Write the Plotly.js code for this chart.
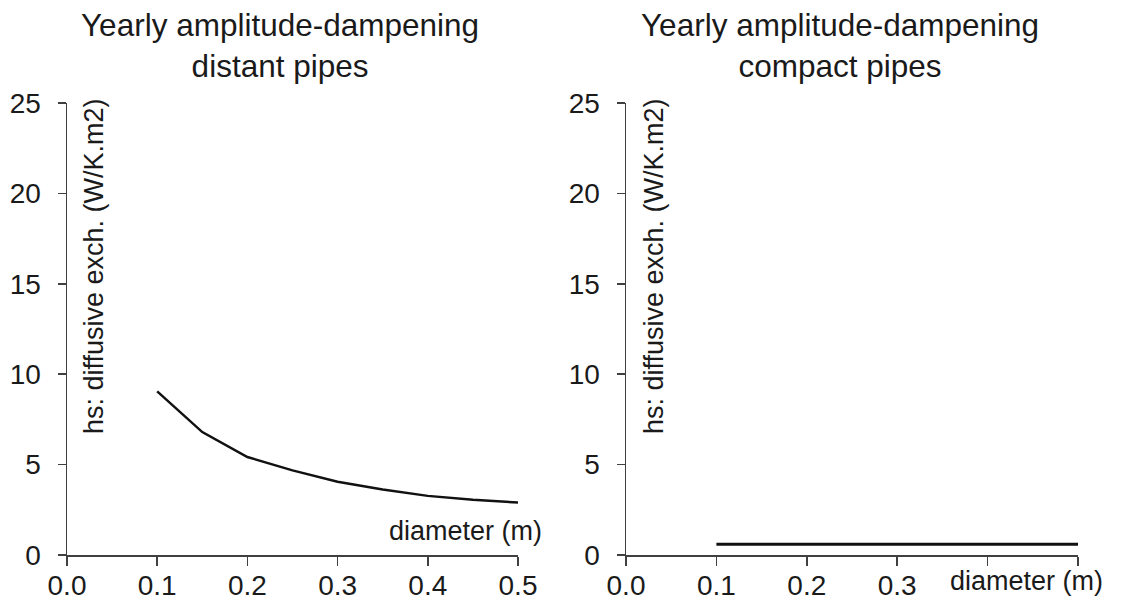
<!DOCTYPE html>
<html>
<head>
<meta charset="utf-8">
<script src="https://cdn.plot.ly/plotly-3.0.1.min.js"></script>
<style>html,body{margin:0;padding:0;background:#fff}#chart{width:1122px;height:603px}</style>
</head>
<body>
<div id="chart"></div>
<script>
// Data
const diameters = [0.1, 0.15, 0.2, 0.25, 0.3, 0.35, 0.4, 0.45, 0.5];
const hsDistant = [9.05, 6.8, 5.42, 4.68, 4.05, 3.62, 3.27, 3.05, 2.9];
const hsCompact = [0.6, 0.6, 0.6, 0.6, 0.6, 0.6, 0.6, 0.6, 0.6];
const xTickVals = [0, 0.1, 0.2, 0.3, 0.4, 0.5];
const xTickTextLeft = ['0.0', '0.1', '0.2', '0.3', '0.4', '0.5'];
const xTickTextRight = ['0.0', '0.1', '0.2', '0.3', '', ''];
const yTickVals = [0, 5, 10, 15, 20, 25];
const titleLeft = 'Yearly amplitude-dampening<br>distant pipes';
const titleRight = 'Yearly amplitude-dampening<br>compact pipes';
const yTitle = 'hs: diffusive exch. (W/K.m2)';
const xTitle = 'diameter (m)';

const W = 1122, H = 603;
const px = v => v / W;
const py = v => (H - v) / H;
const FONT = 'Liberation Sans, Arial, sans-serif';
const TXT = '#1a1a1a';
const AX = '#404040';

const traces = [
  {x: diameters, y: hsDistant, type: 'scatter', mode: 'lines', line: {color: '#111', width: 2.5}, xaxis: 'x', yaxis: 'y', hoverinfo: 'x+y'},
  {x: diameters, y: hsCompact, type: 'scatter', mode: 'lines', line: {color: '#111', width: 3}, xaxis: 'x2', yaxis: 'y2', hoverinfo: 'x+y'}
];

function xax(domain, ticktext, anchor) {
  return {
    domain: domain, anchor: anchor, range: [0, 0.5], fixedrange: true,
    tickmode: 'array', tickvals: xTickVals, ticktext: ticktext,
    ticks: 'outside', ticklen: 9, tickwidth: 1.5, tickcolor: AX,
    showline: true, linecolor: AX, linewidth: 1.5, showgrid: false, zeroline: false,
    tickfont: {family: FONT, size: 28, color: TXT}, ticklabelstandoff: -4
  };
}
function yax(domain, anchor) {
  return {
    domain: domain, anchor: anchor, range: [0, 25], fixedrange: true,
    tickmode: 'array', tickvals: yTickVals,
    ticks: 'outside', ticklen: 8, tickwidth: 1.5, tickcolor: AX,
    showline: true, linecolor: AX, linewidth: 1.5, showgrid: false, zeroline: false,
    tickfont: {family: FONT, size: 28, color: TXT}, ticklabelstandoff: 11
  };
}

const yDom = [py(555), py(103)];
const layout = {
  width: W, height: H,
  margin: {l: 0, r: 0, t: 0, b: 0},
  paper_bgcolor: '#fff', plot_bgcolor: '#fff',
  showlegend: false,
  xaxis: xax([px(67), px(518)], xTickTextLeft, 'y'),
  yaxis: yax(yDom, 'x'),
  xaxis2: xax([px(626), px(1078)], xTickTextRight, 'y2'),
  yaxis2: yax(yDom, 'x2'),
  annotations: [
    {text: titleLeft, xref: 'paper', yref: 'paper', x: px(280), y: py(46), xanchor: 'center', yanchor: 'middle', showarrow: false, font: {family: FONT, size: 31.5, color: TXT}},
    {text: titleRight, xref: 'paper', yref: 'paper', x: px(840), y: py(46), xanchor: 'center', yanchor: 'middle', showarrow: false, font: {family: FONT, size: 31.5, color: TXT}},
    {text: yTitle, xref: 'paper', yref: 'paper', x: px(94), y: py(266), textangle: -90, xanchor: 'center', yanchor: 'middle', showarrow: false, font: {family: FONT, size: 27, color: TXT}},
    {text: yTitle, xref: 'paper', yref: 'paper', x: px(654), y: py(266), textangle: -90, xanchor: 'center', yanchor: 'middle', showarrow: false, font: {family: FONT, size: 27, color: TXT}},
    {text: xTitle, xref: 'paper', yref: 'paper', x: px(387), y: py(531), xanchor: 'left', yanchor: 'middle', showarrow: false, font: {family: FONT, size: 27, color: TXT}},
    {text: xTitle, xref: 'paper', yref: 'paper', x: px(948), y: py(581), xanchor: 'left', yanchor: 'middle', showarrow: false, font: {family: FONT, size: 27, color: TXT}}
  ]
};

Plotly.newPlot('chart', traces, layout, {displayModeBar: false, staticPlot: true});
</script>
</body>
</html>
